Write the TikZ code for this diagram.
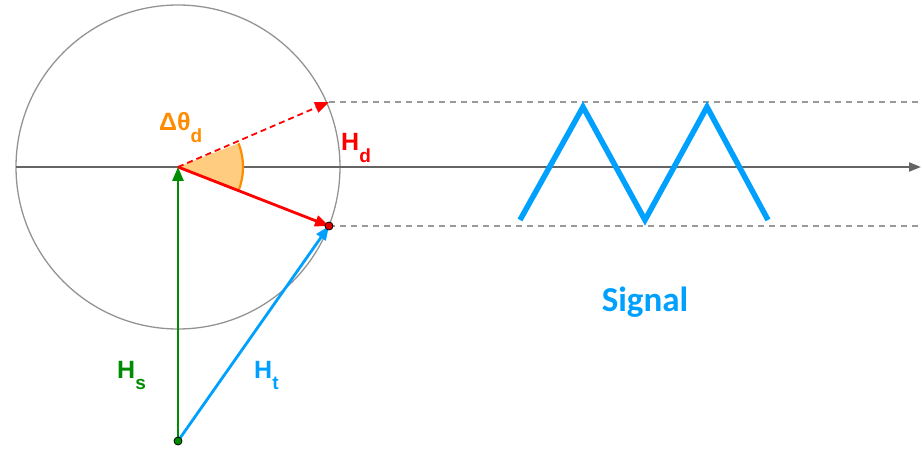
\documentclass[tikz,border=0pt]{standalone}
\usepackage{fontspec}
\setmainfont{Carlito}
\newfontfamily\lblfont{Liberation Sans}
\usetikzlibrary{arrows.meta}
\definecolor{sigblue}{RGB}{0,160,255}
\definecolor{hred}{RGB}{255,0,0}
\definecolor{hgreen}{RGB}{0,140,0}
\definecolor{horange}{RGB}{255,140,0}
\definecolor{wedgefill}{RGB}{255,204,128}
\definecolor{axisgray}{RGB}{100,100,100}
\newcommand{\lowsub}[2]{\raisebox{-#1pt}{\fontsize{19}{19}\selectfont #2}}
\tikzset{
  vec/.style={line width=2.8pt,-{Triangle[length=14pt,width=11pt]}},
  guide/.style={draw=gray!80,line width=1.3pt,dash pattern=on 6pt off 5pt},
  lbl/.style={font=\lblfont\bfseries\fontsize{25}{28}\selectfont,inner sep=0pt,anchor=base west},
  dot/.style={circle,inner sep=0pt,minimum size=8pt,line width=0.8pt,draw=black}
}
\begin{document}
\begin{tikzpicture}[x=1pt,y=-1pt]
\useasboundingbox (0,0) rectangle (922,449);
\coordinate (C) at (178,167);
\coordinate (Pu) at (329,102);
\coordinate (Pd) at (329,226);
\coordinate (S) at (178,441);
\coordinate (AL) at (16,167);
\coordinate (AR) at (921,167);
\coordinate (Gu) at (922,102);
\coordinate (Gd) at (922,226);
% circle
\draw[gray!85,line width=1.3pt] (C) circle[radius=162];
% dashed guides
\draw[guide] (Pu) -- (Gu);
\draw[guide] (Pd) -- (Gd);
% axis
\draw[axisgray,line width=1.8pt,-{Triangle[length=12pt,width=9pt]}] (AL) -- (AR);
% wedge
\fill[wedgefill] (C) -- ++(-21.34:65) arc[start angle=-21.34,end angle=21.34,radius=65] -- cycle;
\draw[horange,line width=2.2pt] (C) ++(-21.34:65) arc[start angle=-21.34,end angle=21.34,radius=65];
\draw[horange,line width=2pt] (C) -- ++(21.34:65);
% vectors
\draw[vec,hred,dash pattern=on 6pt off 4pt,line width=1.8pt] (C) -- (Pu);
\draw[vec,hred] (C) -- (Pd);
\draw[vec,hgreen] (S) -- (C);
\draw[vec,sigblue] (S) -- (Pd);
\node[dot,fill=hred!90!black] (Dd) at (Pd) {};
\node[dot,fill=hgreen] (Ds) at (S) {};
% labels
\node[lbl,text=horange] (Lth) at (159,131) {Δθ\lowsub{12}{d}};
\node[lbl,text=hred] (Lhd) at (341,151) {H\lowsub{12}{d}};
\node[lbl,text=hgreen] (Lhs) at (117,378) {H\lowsub{11}{s}};
\node[lbl,text=sigblue] (Lht) at (254,378) {H\lowsub{11}{t}};
% signal
\draw[sigblue,line width=5.5pt,line join=miter] (520,220) -- (583,107) -- (645,220) -- (707,107) -- (768,220);
\node[font=\bfseries\fontsize{35}{40}\selectfont,text=sigblue] (Sig) at (645,302) {Signal};
\end{tikzpicture}
\end{document}
